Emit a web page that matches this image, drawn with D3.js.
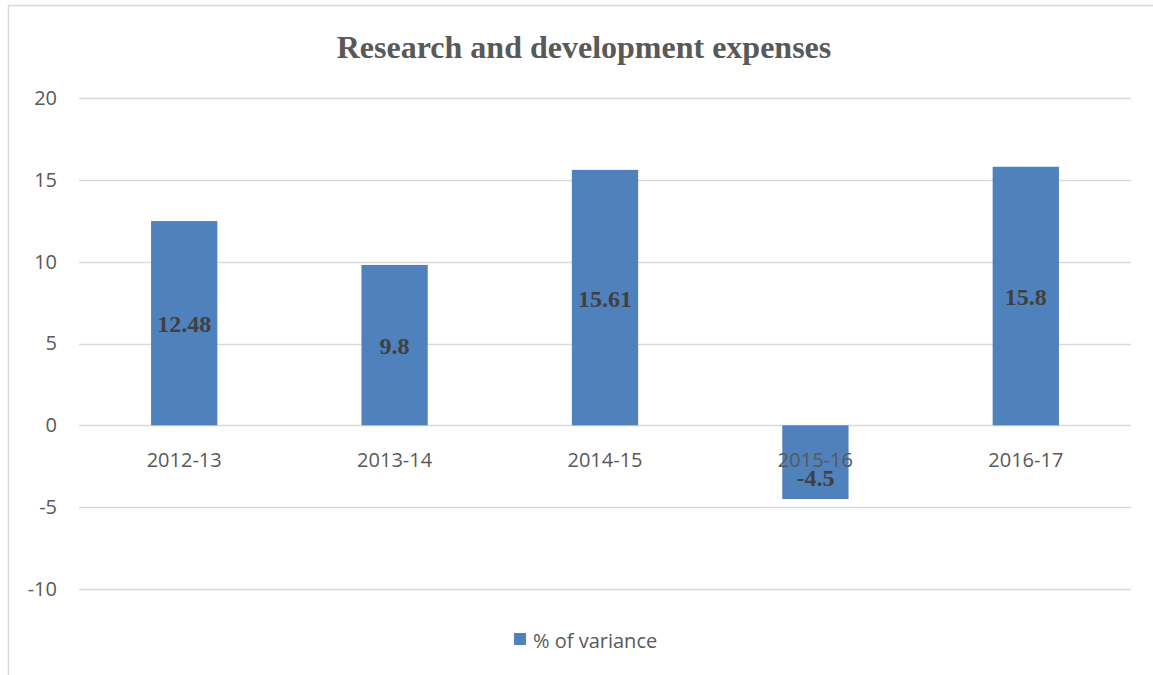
<!DOCTYPE html>
<html><head><meta charset="utf-8">
<script src="https://cdn.jsdelivr.net/npm/d3@7"></script>
<style>body{margin:0;background:#fff}</style>
</head><body>
<svg id="c" width="1153" height="675"></svg>
<script>
const categories = ["2012-13","2013-14","2014-15","2015-16","2016-17"];
const values = [12.48, 9.8, 15.61, -4.5, 15.8];
const labels = ["12.48","9.8","15.61","-4.5","15.8"];
const yTicks = [-10,-5,0,5,10,15,20];
const seriesName = "% of variance";
const title = "Research and development expenses";

const svg = d3.select("#c");
const W = 1153, H = 675;
const m = {left:79, right:22, top:98, bottom:86};
const x = d3.scaleBand().domain(categories).range([m.left, W - m.right]).paddingInner(0.685).paddingOuter(0.3425);
const y = d3.scaleLinear().domain([-10,20]).range([589, 98]);

// chart border
svg.append("rect").attr("x",8.5).attr("y",5.5).attr("width",W+10).attr("height",H+10)
  .attr("fill","none").attr("stroke","#d9d9d9").attr("stroke-width",1.5);

// gridlines
svg.append("g").selectAll("line").data(yTicks).join("line")
  .attr("x1",m.left).attr("x2",W-m.right)
  .attr("y1",d=>Math.round(y(d))+0.5).attr("y2",d=>Math.round(y(d))+0.5)
  .attr("stroke","#d9d9d9").attr("stroke-width",1.3);

// y axis labels
const yAxis = d3.axisLeft(y).tickValues(yTicks).tickSize(0).tickPadding(0).tickFormat(d=>String(d));
const gy = svg.append("g").attr("transform","translate(57,0)").call(yAxis);
gy.select(".domain").remove();
gy.selectAll("text").attr("font-family","'Open Sans', sans-serif").attr("font-size",20).attr("fill","#595959");

// bars
svg.append("g").selectAll("rect").data(values).join("rect")
  .attr("x",(d,i)=>x(categories[i]))
  .attr("width",x.bandwidth())
  .attr("y",d=>y(Math.max(0,d)))
  .attr("height",d=>Math.abs(y(d)-y(0)))
  .attr("fill","#4f81bd");

// x axis labels
const xAxis = d3.axisBottom(x).tickSize(0).tickPadding(0);
const gx = svg.append("g").attr("transform",`translate(0,${y(0)+42})`).call(xAxis);
gx.select(".domain").remove();
gx.selectAll("text").attr("dy",0).attr("font-family","'Open Sans', sans-serif").attr("font-size",20).attr("fill","#595959");

// data labels
svg.append("g").selectAll("text").data(values).join("text")
  .attr("x",(d,i)=>x(categories[i])+x.bandwidth()/2)
  .attr("y",d=> d>=0 ? (y(d)+y(0))/2 + 9 : (y(d)+y(0))/2 + 24)
  .attr("text-anchor","middle")
  .attr("font-family","'Liberation Serif', 'Times New Roman', serif")
  .attr("font-weight","bold").attr("font-size",24).attr("fill","#404040")
  .text((d,i)=>labels[i]);

// title
svg.append("text").attr("x",584).attr("y",58).attr("text-anchor","middle")
  .attr("font-family","'Liberation Serif', 'Times New Roman', serif")
  .attr("font-weight","bold").attr("font-size",32).attr("fill","#595959").text(title);

// legend
const lg = svg.append("g");
lg.append("rect").attr("x",514).attr("y",633).attr("width",12).attr("height",12).attr("fill","#4f81bd");
lg.append("text").attr("x",533).attr("y",648).attr("font-family","'Open Sans', sans-serif")
  .attr("font-size",20).attr("fill","#595959").text(seriesName);
</script>
</body></html>
